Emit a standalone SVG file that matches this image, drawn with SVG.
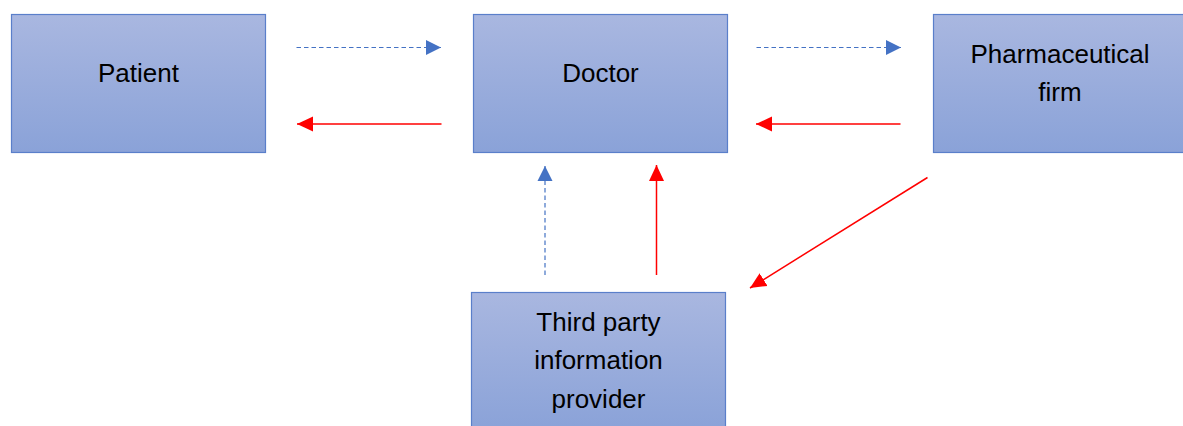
<svg xmlns="http://www.w3.org/2000/svg" width="1183" height="426" viewBox="0 0 1183 426">
<style>
.box{fill:url(#g);stroke:#5a7fca;stroke-width:1.2}
.lbl{font-family:"Liberation Sans",Arial,sans-serif;font-size:26px;fill:#000;text-anchor:middle}
.blue{stroke:#4472c4;stroke-width:1.2;stroke-dasharray:4.5,3;fill:none}
.red{stroke:#ff0000;stroke-width:1.5;fill:none}
</style>
<defs>
<linearGradient id="g" x1="0" y1="0" x2="0" y2="1">
<stop offset="0" stop-color="#a9b7e0"/>
<stop offset="1" stop-color="#8aa2d8"/>
</linearGradient>
<marker id="ab" markerUnits="userSpaceOnUse" markerWidth="16" markerHeight="16" viewBox="0 0 16 16" refX="15" refY="8" orient="auto">
<path d="M0,0.5 L15,8 L0,15.5 Z" fill="#4472c4"/>
</marker>
<marker id="ar" markerUnits="userSpaceOnUse" markerWidth="17" markerHeight="16" viewBox="0 0 17 16" refX="16" refY="8" orient="auto">
<path d="M0,0.5 L16,8 L0,15.5 Z" fill="#ff0000"/>
</marker>
</defs>
<g id="patient">
<rect class="box" x="11.5" y="14.5" width="254" height="138"/>
<text class="lbl" x="138.5" y="82">Patient</text>
</g>
<g id="doctor">
<rect class="box" x="473.5" y="14.5" width="254" height="138"/>
<text class="lbl" x="600.5" y="82">Doctor</text>
</g>
<g id="pharma">
<rect class="box" x="933.5" y="14.5" width="254" height="138"/>
<text class="lbl" x="1060" y="63">Pharmaceutical</text>
<text class="lbl" x="1060" y="100.5">firm</text>
</g>
<g id="thirdparty">
<rect class="box" x="471.5" y="292.5" width="254" height="138"/>
<text class="lbl" x="598.5" y="330.5">Third party</text>
<text class="lbl" x="598.5" y="369">information</text>
<text class="lbl" x="598.5" y="407.5">provider</text>
</g>
<g id="connectors">
<line class="blue" x1="296.5" y1="47.5" x2="441" y2="47.5" marker-end="url(#ab)"/>
<line class="red" x1="441.5" y1="124" x2="297" y2="124" marker-end="url(#ar)"/>
<line class="blue" x1="756.5" y1="47.5" x2="901" y2="47.5" marker-end="url(#ab)"/>
<line class="red" x1="900.5" y1="124" x2="756" y2="124" marker-end="url(#ar)"/>
<line class="blue" x1="545" y1="275" x2="545" y2="166" marker-end="url(#ab)"/>
<line class="red" x1="656.5" y1="275" x2="656.5" y2="165" marker-end="url(#ar)"/>
<line class="red" x1="927.5" y1="177.5" x2="750" y2="288" marker-end="url(#ar)"/>
</g>
</svg>
